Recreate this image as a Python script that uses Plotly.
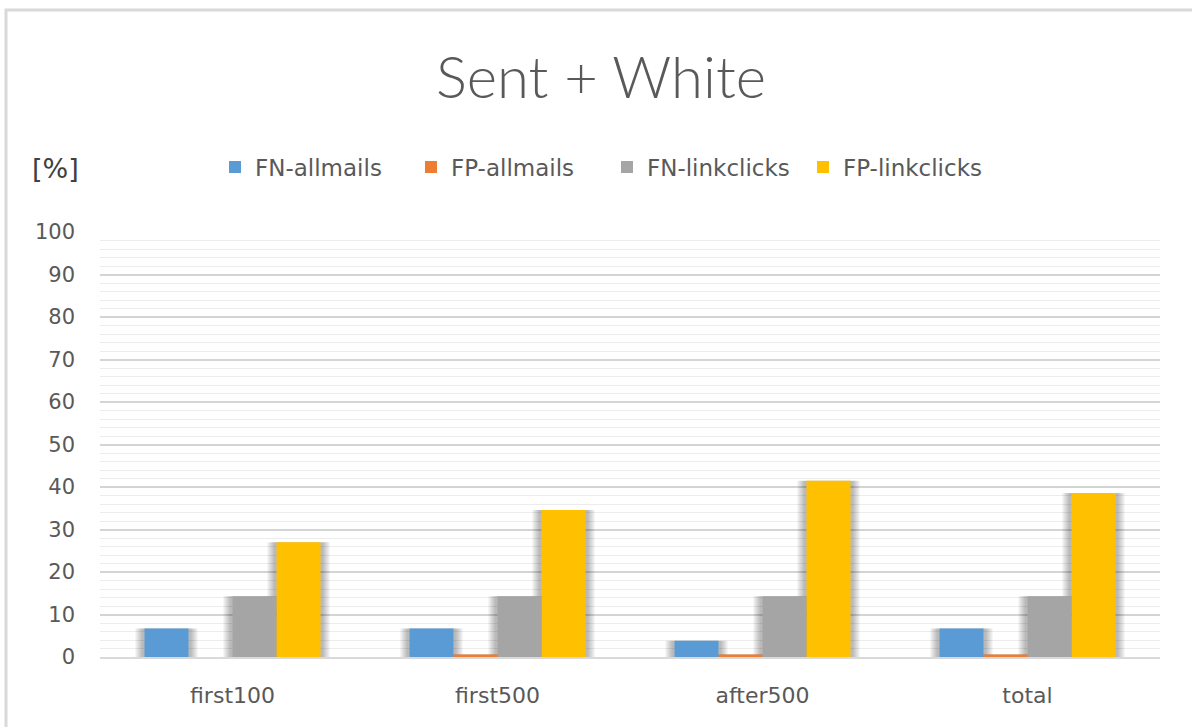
import plotly.graph_objects as go

# Error rates per sample window, in percent
categories = ["first100", "first500", "after500", "total"]
fn_allmails = [6.7, 6.7, 3.8, 6.7]
fp_allmails = [0.0, 0.6, 0.6, 0.6]
fn_linkclicks = [14.3, 14.3, 14.3, 14.3]
fp_linkclicks = [27.0, 34.6, 41.5, 38.6]

series = [
    ("FN-allmails", fn_allmails, "#5b9bd5"),
    ("FP-allmails", fp_allmails, "#ed7d31"),
    ("FN-linkclicks", fn_linkclicks, "#a5a5a5"),
    ("FP-linkclicks", fp_linkclicks, "#ffc000"),
]

W, H = 1192, 727
L, R, T, B = 100, 32, 232, 70
pw, ph = W - L - R, H - T - B

TITLE_FONT = "Lato"
FONT = "DejaVu Sans"
TEXT = "#595959"

# bar geometry in category units (one category = 1.0)
px_per_cat = pw / len(categories)
bar_w = 44 / px_per_cat
n = len(series)

fig = go.Figure()

# soft drop shadow behind each bar, built from a few translucent layers
for spread in [9, 7, 5, 3]:
    d = spread / px_per_cat
    for i, (name, vals, color) in enumerate(series):
        off = (i - n / 2) * bar_w
        fig.add_trace(go.Bar(x=categories, y=vals, width=bar_w + 2 * d, offset=off - d,
                             marker=dict(color="rgba(0,0,0,0.075)", line=dict(width=0)),
                             showlegend=False, hoverinfo="skip"))

for i, (name, vals, color) in enumerate(series):
    off = (i - n / 2) * bar_w
    fig.add_trace(go.Bar(name=name, x=categories, y=vals, width=bar_w, offset=off,
                         marker=dict(color=color, line=dict(width=0))))

fig.update_layout(
    width=W, height=H,
    margin=dict(l=L, r=R, t=T, b=B),
    paper_bgcolor="white", plot_bgcolor="white",
    barmode="overlay",
    font=dict(family=FONT, color=TEXT, size=20),
    title=dict(text="Sent + White", x=(601 - L) / pw, xref="paper", xanchor="center",
               y=1 - 78 / H, yanchor="middle",
               font=dict(family=TITLE_FONT, size=58, color=TEXT, weight=300)),
    legend=dict(orientation="h", xref="paper", x=(607 - L) / pw, xanchor="center",
                yref="paper", y=(H - B - 167) / ph, yanchor="middle",
                font=dict(size=23, color=TEXT), itemwidth=30,
                entrywidth=151, entrywidthmode="pixels",
                bgcolor="rgba(0,0,0,0)"),
    xaxis=dict(showgrid=False, showline=True, linecolor="#d9d9d9", linewidth=2,
               ticks="", tickfont=dict(size=22, color=TEXT), ticklabelstandoff=18),
    yaxis=dict(range=[0, 100], dtick=10, showgrid=True, gridcolor="#d4d4d4", gridwidth=1.5,
               zeroline=False, ticks="", tickfont=dict(size=21, color=TEXT),
               ticklabelstandoff=24,
               minor=dict(dtick=2, showgrid=True, gridcolor="#ececec", gridwidth=1)),
)

# axis unit label
fig.add_annotation(text="[%]", xref="paper", yref="paper",
                   x=(55 - L) / pw, y=(H - B - 168) / ph,
                   xanchor="center", yanchor="middle", showarrow=False,
                   font=dict(family=FONT, size=27, color="#404040"))

# chart frame (only top and left edges fall inside the page)
fig.add_shape(type="rect", xref="paper", yref="paper",
              x0=(6 - L) / pw, x1=(W + 20 - L) / pw,
              y0=-(B + 20) / ph, y1=(H - B - 10) / ph,
              line=dict(color="#d9d9d9", width=3), fillcolor="rgba(0,0,0,0)", layer="below")

fig.write_html("out.html")
